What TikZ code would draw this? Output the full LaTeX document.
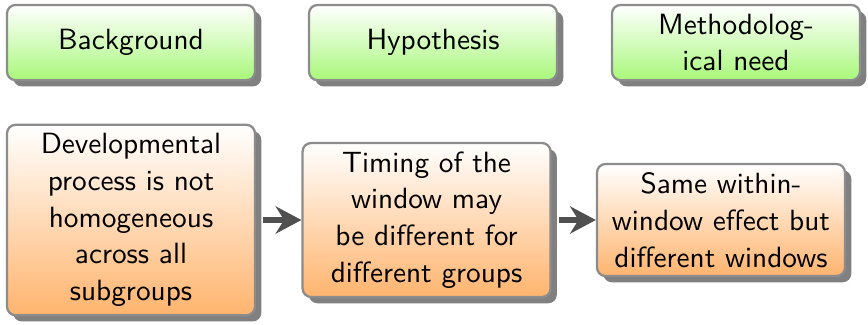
\RequirePackage{fix-cm}
\documentclass[tikz,border=0pt]{standalone}
\usepackage{tikz}
\usetikzlibrary{arrows.meta,shadows}
\definecolor{headgreen}{HTML}{A8F87A}
\definecolor{steporange}{HTML}{FFB46E}
\definecolor{arrowgray}{HTML}{505050}

\begin{document}
\begin{tikzpicture}[font=\sffamily\fontsize{10.25}{12.85}\selectfont,x=1pt,y=1pt,
  box/.style={draw=black!45,line width=.8pt,rounded corners=3pt,align=center,
    minimum width=86.8pt,inner sep=3pt,
    drop shadow={shadow xshift=2.2pt,shadow yshift=-2.2pt,fill=black!50,opacity=1}},
  headbox/.style={box,top color=white,bottom color=headgreen,minimum height=26.3pt},
  stepbox/.style={box,top color=white,bottom color=steporange},
  flow/.style={arrowgray,line width=2.3pt,-{Stealth[length=9pt,width=9.5pt]}}]
\useasboundingbox (0,0) rectangle (303.8,-113.4);
% top row
\foreach \x/\n/\txt in {45.85/h1/Background,151.55/h2/Hypothesis,257.6/h3/{Methodolog-\\ical need}}{
  \node[headbox] (\n) at (\x,-14.9) {\txt};}
% bottom row
\node[stepbox,minimum height=66.5pt] (s1) at (45.85,-77)
  {Developmental\\process is not\\homogeneous\\across all\\subgroups};
\node[stepbox,minimum height=53.9pt] (s2) at (149.3,-77)
  {Timing of the\\window may\\be different for\\different groups};
\node[stepbox,minimum height=39.2pt] (s3) at (252.35,-77)
  {Same within-\\window effect but\\different windows};
\draw[flow] ([xshift=2.4pt]s1.east) -- (s2.west);
\draw[flow] ([xshift=2.4pt]s2.east) -- (s3.west);
\end{tikzpicture}
\end{document}
